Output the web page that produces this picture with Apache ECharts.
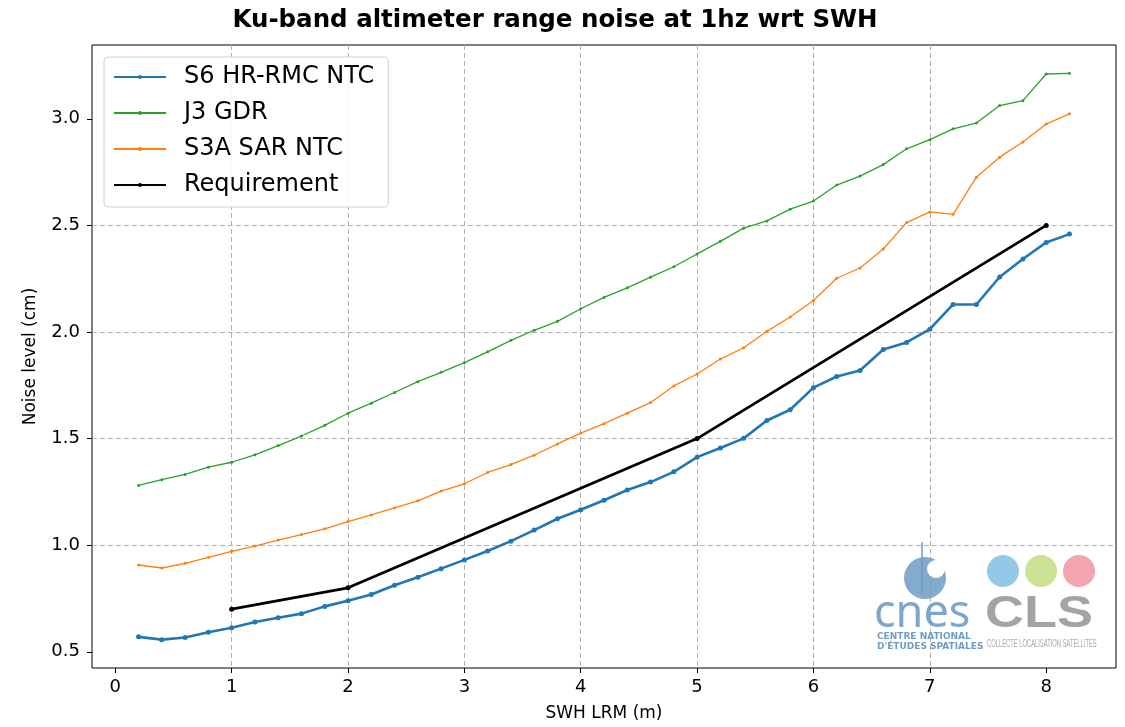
<!DOCTYPE html>
<html>
<head>
<meta charset="utf-8">
<title>Ku-band altimeter range noise</title>
<script src="https://cdn.jsdelivr.net/npm/echarts@6/dist/echarts.min.js"></script>
<style>
  html, body { margin: 0; padding: 0; background: #fff; }
  #chart { width: 1125px; height: 727px; }
</style>
</head>
<body>
<div id="chart"></div>
<script>
// SWH (m)
var swh = [0.2, 0.4, 0.6, 0.8, 1.0, 1.2, 1.4, 1.6, 1.8, 2.0,
  2.2, 2.4, 2.6, 2.8, 3.0, 3.2, 3.4, 3.6, 3.8, 4.0,
  4.2, 4.4, 4.6, 4.8, 5.0, 5.2, 5.4, 5.6, 5.8, 6.0,
  6.2, 6.4, 6.6, 6.8, 7.0, 7.2, 7.4, 7.6, 7.8, 8.0, 8.2]

// bruit (cm)
var s6Noise = [0.570, 0.557, 0.567, 0.592, 0.613, 0.640, 0.660, 0.679, 0.713, 0.739,
  0.769, 0.812, 0.850, 0.890, 0.931, 0.973, 1.019, 1.071, 1.124, 1.166,
  1.211, 1.259, 1.296, 1.344, 1.413, 1.456, 1.501, 1.585, 1.635, 1.739,
  1.791, 1.819, 1.918, 1.951, 2.013, 2.129, 2.129, 2.258, 2.342, 2.420, 2.459]
var j3Noise = [1.280, 1.307, 1.332, 1.366, 1.389, 1.424, 1.467, 1.512, 1.562, 1.619,
  1.666, 1.716, 1.767, 1.811, 1.856, 1.907, 1.961, 2.008, 2.050, 2.109,
  2.162, 2.207, 2.257, 2.306, 2.366, 2.425, 2.487, 2.521, 2.576, 2.614,
  2.689, 2.731, 2.785, 2.859, 2.902, 2.953, 2.980, 3.062, 3.085, 3.210, 3.213]
var s3aNoise = [0.907, 0.893, 0.915, 0.943, 0.971, 0.996, 1.024, 1.050, 1.077, 1.111,
  1.142, 1.175, 1.208, 1.254, 1.288, 1.341, 1.378, 1.422, 1.475, 1.526,
  1.570, 1.619, 1.669, 1.747, 1.803, 1.873, 1.926, 2.003, 2.070, 2.148,
  2.252, 2.300, 2.389, 2.513, 2.563, 2.552, 2.726, 2.820, 2.891, 2.975, 3.023]

// exigence
var reqSwh = [1, 2, 5, 8]
var reqNoise = [0.70, 0.80, 1.50, 2.50]

var xTicks = [0, 1, 2, 3, 4, 5, 6, 7, 8]
var yTicks = [0.5, 1.0, 1.5, 2.0, 2.5, 3.0]

var FONT = 'DejaVu Sans'

function pairs (xs, ys) {
  return xs.map(function (x, i) { return [x, ys[i]] })
}

var chart = echarts.init(document.getElementById('chart'))

var dashed = { show: true, lineStyle: { color: '#b0b0b0', type: [5, 3], width: 1 }, showMinLine: false, showMaxLine: false }

chart.setOption({
  animation: false,
  textStyle: { fontFamily: FONT },
  title: {
    text: 'Ku-band altimeter range noise at 1hz wrt SWH',
    left: 550,
    textAlign: 'center',
    top: 3,
    textStyle: { fontFamily: FONT, fontSize: 24.5, fontWeight: 'bold', color: '#000' }
  },
  grid: {
    left: 92,
    right: 9,
    top: 45,
    bottom: 56,
    show: true,
    borderColor: '#000',
    borderWidth: 1,
    backgroundColor: 'transparent'
  },
  legend: {
    orient: 'vertical',
    left: 104,
    top: 57,
    padding: [8, 14, 10, 9],
    itemWidth: 52,
    itemHeight: 5,
    itemGap: 12,
    backgroundColor: 'rgba(255,255,255,0.85)',
    borderColor: '#d0d0d0',
    borderWidth: 1,
    borderRadius: 4,
    textStyle: { fontFamily: FONT, fontSize: 24, color: '#000', padding: [0, 0, 0, 13] },
    data: ['S6 HR-RMC NTC', 'J3 GDR', 'S3A SAR NTC', 'Requirement']
  },
  xAxis: {
    type: 'value',
    min: -0.2,
    max: 8.6,
    splitNumber: 9,
    name: 'SWH LRM (m)',
    nameLocation: 'middle',
    nameGap: 37,
    nameTextStyle: { fontFamily: FONT, fontSize: 17, color: '#000' },
    axisLine: { show: false, onZero: false },
    axisTick: { show: true, inside: false, length: 5, customValues: xTicks, lineStyle: { color: '#000' } },
    axisLabel: { customValues: xTicks, margin: 10, fontFamily: FONT, fontSize: 18, color: '#000' },
    splitLine: dashed
  },
  yAxis: {
    type: 'value',
    min: 0.424,
    max: 3.346,
    splitNumber: 6,
    name: 'Noise level (cm)',
    nameLocation: 'middle',
    nameGap: 53,
    nameTextStyle: { fontFamily: FONT, fontSize: 17, color: '#000' },
    axisLine: { show: false, onZero: false },
    axisTick: { show: true, inside: false, length: 5, customValues: yTicks, lineStyle: { color: '#000' } },
    axisLabel: {
      customValues: yTicks,
      margin: 12,
      fontFamily: FONT,
      fontSize: 18,
      color: '#000',
      formatter: function (v) { return v.toFixed(1) }
    },
    splitLine: dashed
  },
  series: [
    {
      name: 'S6 HR-RMC NTC',
      type: 'line',
      data: pairs(swh, s6Noise),
      symbol: 'circle',
      symbolSize: 5,
      lineStyle: { width: 2.6, color: '#1f77b4' },
      itemStyle: { color: '#1f77b4' }
    },
    {
      name: 'J3 GDR',
      type: 'line',
      data: pairs(swh, j3Noise),
      symbol: 'circle',
      symbolSize: 3,
      lineStyle: { width: 1.3, color: '#2ca02c' },
      itemStyle: { color: '#2ca02c' }
    },
    {
      name: 'S3A SAR NTC',
      type: 'line',
      data: pairs(swh, s3aNoise),
      symbol: 'circle',
      symbolSize: 3,
      lineStyle: { width: 1.3, color: '#ff7f0e' },
      itemStyle: { color: '#ff7f0e' }
    },
    {
      name: 'Requirement',
      type: 'line',
      data: pairs(reqSwh, reqNoise),
      symbol: 'circle',
      symbolSize: 5,
      lineStyle: { width: 2.8, color: '#000' },
      itemStyle: { color: '#000' }
    }
  ],
  // logos cnes / CLS (filigrane)
  graphic: [
    { type: 'circle', shape: { cx: 925, cy: 578, r: 21 }, style: { fill: '#6f9cc6', opacity: 0.85 }, z: 1 },
    { type: 'circle', shape: { cx: 936, cy: 569, r: 9 }, style: { fill: '#fff' }, z: 2 },
    { type: 'line', shape: { x1: 922, y1: 542, x2: 922, y2: 594 }, style: { stroke: '#6f9cc6', lineWidth: 1.5 }, z: 3 },
    { type: 'text', left: 874, top: 592, style: { text: 'cnes', font: '45px "Noto Sans"', fill: '#6f9cc6', opacity: 0.9 }, z: 1 },
    { type: 'text', left: 877, top: 632, style: { text: 'CENTRE NATIONAL', font: 'bold 9px "DejaVu Sans"', fill: '#6f9cc6' }, z: 1 },
    { type: 'text', left: 877, top: 642, style: { text: 'D\'ÉTUDES SPATIALES', font: 'bold 9px "DejaVu Sans"', fill: '#6f9cc6' }, z: 1 },
    { type: 'circle', shape: { cx: 1003, cy: 571, r: 16 }, style: { fill: '#86c3e6', opacity: 0.9 }, z: 1 },
    { type: 'circle', shape: { cx: 1041, cy: 571, r: 16 }, style: { fill: '#c6df88', opacity: 0.9 }, z: 1 },
    { type: 'circle', shape: { cx: 1079, cy: 571, r: 16 }, style: { fill: '#f49aa4', opacity: 0.9 }, z: 1 },
    { type: 'text', left: 985, top: 592, scaleX: 1.2, style: { text: 'CLS', font: 'bold 45px "Liberation Sans"', fill: '#9a9a9a', opacity: 0.9 }, z: 1 },
    { type: 'text', left: 987, top: 639, scaleX: 0.58, style: { text: 'COLLECTE LOCALISATION SATELLITES', font: '10px "Liberation Sans"', fill: '#a8a8a8' }, z: 1 }
  ]
})
</script>
</body>
</html>
